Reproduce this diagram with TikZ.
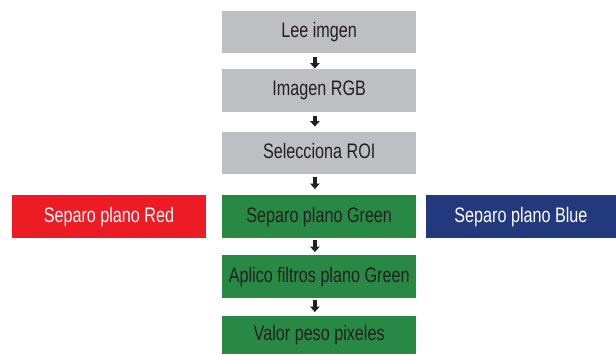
\documentclass[tikz,border=0pt]{standalone}
\usepackage{fontspec}
\setmainfont[FakeStretch=0.77]{Liberation Sans}
\usetikzlibrary{arrows.meta}
\definecolor{boxgray}{RGB}{190,191,195}
\definecolor{boxgreen}{RGB}{39,137,67}
\definecolor{boxred}{RGB}{237,28,36}
\definecolor{boxblue}{RGB}{34,57,125}
\definecolor{txtdark}{RGB}{35,31,32}
\tikzset{
  flowbox/.style={anchor=north west, inner sep=0pt, minimum width=194pt, minimum height=42pt,
    font=\fontsize{21pt}{24pt}\selectfont, text height=15pt, text depth=4pt},
  graybox/.style={flowbox, fill=boxgray, text=txtdark},
  greenbox/.style={flowbox, fill=boxgreen, text=txtdark},
  redbox/.style={flowbox, fill=boxred, text=white},
  bluebox/.style={flowbox, fill=boxblue, text=white},
  blkarrow/.style={draw=txtdark, line width=4pt, -{Triangle[width=9.5pt,length=5.5pt]}}
}
\begin{document}
\begin{tikzpicture}[x=1pt,y=-1pt]
\useasboundingbox (0,0) rectangle (616,354);
\node[graybox] (lee) at (222,11) {Lee imgen};
\node[graybox, minimum height=42.5pt] (rgb) at (222,69) {Imagen RGB};
\node[graybox] (roi) at (222,132) {Selecciona ROI};
\node[greenbox, minimum height=43pt] (green) at (222,195) {Separo plano Green};
\node[redbox, minimum width=193.5pt, minimum height=43pt] (red) at (12,195) {Separo plano Red};
\node[bluebox, minimum width=190.5pt, minimum height=43pt] (blue) at (425.5,195) {Separo plano Blue};
\node[greenbox, minimum height=43pt] (filt) at (222,255) {Aplico filtros plano Green};
\node[greenbox, minimum height=38pt] (peso) at (222,316) {Valor peso pixeles};
\draw[blkarrow, shorten <=4pt, shorten >=0.5pt] ([xshift=-4.3pt]lee.south) -- ([xshift=-4.3pt]rgb.north);
\draw[blkarrow, shorten <=4.5pt, shorten >=5.5pt] ([xshift=-4.3pt]rgb.south) -- ([xshift=-4.3pt]roi.north);
\draw[blkarrow, shorten <=3pt, shorten >=6pt] ([xshift=-4.3pt]roi.south) -- ([xshift=-4.3pt]green.north);
\draw[blkarrow, shorten <=2pt, shorten >=3pt] ([xshift=-4.3pt]green.south) -- ([xshift=-4.3pt]filt.north);
\draw[blkarrow, shorten <=1.5pt, shorten >=4pt] ([xshift=-4.3pt]filt.south) -- ([xshift=-4.3pt]peso.north);
\end{tikzpicture}
\end{document}
